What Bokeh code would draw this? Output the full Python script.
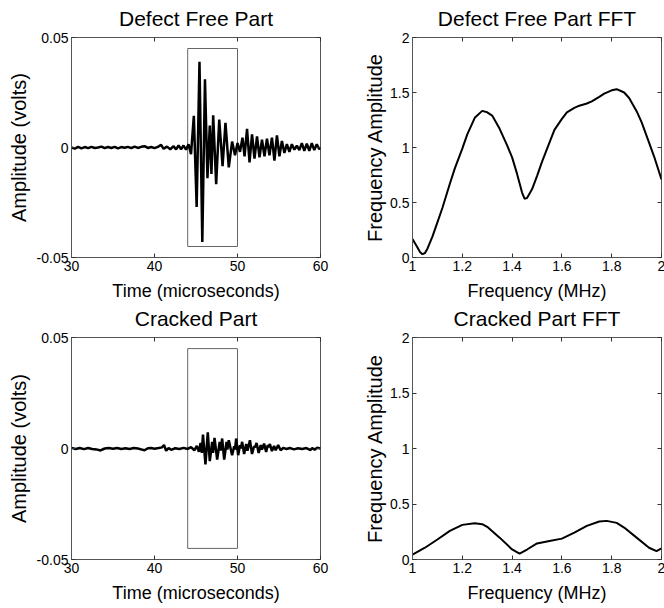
from bokeh.plotting import figure
from bokeh.models import Range1d, FixedTicker, LinearAxis, CustomLabelingPolicy
from bokeh.layouts import column, row
from bokeh.embed import file_html
from bokeh.resources import INLINE

# ---------------- data ----------------
t_free = [30.0, 30.4, 30.8, 31.2, 31.6, 32.0, 32.4, 32.8, 33.2, 33.6, 34.0, 34.4, 34.8, 35.2,
          35.6, 36.0, 36.4, 36.8, 37.2, 37.6, 38.0, 38.4, 38.8, 39.2, 39.6, 40.0, 40.4, 40.8,
          41.1, 41.5, 41.9, 42.3, 42.6, 42.9, 43.2, 43.5, 43.8, 44.1, 44.4, 44.74, 45.08,
          45.42, 45.76, 46.08, 46.38, 46.66, 46.86, 47.07, 47.43, 47.8, 48.2, 48.55, 48.95,
          49.35, 49.7, 50.0, 50.3, 50.6, 50.85, 51.15, 51.45, 51.75, 52.05, 52.35, 52.65,
          52.95, 53.25, 53.55, 53.85, 54.15, 54.45, 54.75, 55.05, 55.35, 55.65, 55.95, 56.25,
          56.55, 56.85, 57.15, 57.45, 57.75, 58.05, 58.35, 58.65, 58.95, 59.25, 59.55, 59.85, 60.0]
v_free = [0.0, -0.0005, 0.0003, -0.0004, 0.0002, -0.0003, 0.0003, -0.0002, 0.0, 0.0004,
          -0.0003, 0.0002, -0.0002, 0.0003, -0.0004, 0.0002, -0.0001, 0.0003, -0.0003, 0.0004,
          -0.0002, 0.0003, 0.0006, -0.0002, 0.0002, -0.0003, 0.0003, 0.0012, -0.0006, 0.0004,
          -0.0008, 0.0006, -0.0009, 0.0010, -0.0008, 0.0009, -0.0010, 0.0015, -0.0030, 0.0144,
          -0.0270, 0.0390, -0.0430, 0.0310, -0.0140, 0.0100, -0.0120, 0.0146, -0.0167, 0.0127,
          -0.0085, 0.0112, -0.0090, 0.0027, -0.0035, 0.0020, -0.0020, 0.0045, -0.0040, 0.0085,
          -0.0068, 0.0060, -0.0050, 0.0050, -0.0045, 0.0035, -0.0040, 0.0040, -0.0035, 0.0045,
          -0.0060, 0.0055, -0.0040, 0.0030, -0.0025, 0.0015, -0.0020, 0.0015, -0.0010, 0.0008,
          -0.0012, 0.0020, -0.0015, 0.0018, -0.0015, 0.0020, -0.0012, 0.0015, -0.0008, 0.0]

t_crack = [30.0, 30.5, 31.0, 31.5, 32.0, 32.5, 33.0, 33.5, 34.0, 34.5, 35.0, 35.5, 36.0, 36.5,
           37.0, 37.5, 38.0, 38.5, 38.8, 39.2, 39.6, 40.0, 40.5, 40.9, 41.15, 41.4, 41.7, 42.0,
           42.5, 43.0, 43.5, 44.0, 44.4, 44.8, 45.1, 45.35, 45.55, 45.7, 45.84, 46.14, 46.42,
           46.66, 46.95, 47.05, 47.23, 47.55, 47.85, 47.98, 48.15, 48.4, 48.68, 48.78, 48.95,
           49.35, 49.6, 49.7, 49.84, 50.08, 50.3, 50.4, 50.56, 50.8, 51.05, 51.2, 51.5, 51.75,
           52.0, 52.1, 52.3, 52.55, 52.8, 52.95, 53.2, 53.45, 53.65, 53.75, 53.9, 54.15, 54.4,
           54.6, 54.9, 55.2, 55.5, 55.9, 56.3, 56.8, 57.3, 57.8, 58.3, 58.8, 59.0, 59.3, 59.6, 60.0]
v_crack = [0.0003, -0.0002, 0.0002, -0.0003, 0.0002, -0.0002, -0.0004, -0.0009, 0.0, 0.0002,
           -0.0001, 0.0002, -0.0002, 0.0001, -0.0002, 0.0002, 0.0, -0.0005, -0.0008, 0.0001,
           0.0002, -0.0001, 0.0002, 0.0005, 0.0016, -0.0010, 0.0002, -0.0006, 0.0001, -0.0002,
           0.0003, -0.0002, 0.0006, -0.0008, 0.0012, -0.0015, 0.0025, -0.0020, 0.0063, -0.0072,
           0.0073, -0.0057, 0.0030, -0.0020, 0.0048, -0.0050, 0.0030, -0.0010, 0.0045, -0.0050,
           0.0030, -0.0005, 0.0037, -0.0030, 0.0010, -0.0005, 0.0045, -0.0030, 0.0015, 0.0000,
           0.0030, -0.0025, 0.0020, -0.0010, 0.0037, -0.0025, 0.0010, 0.0005, 0.0025, -0.0020,
           0.0015, -0.0005, 0.0022, -0.0015, 0.0015, 0.0005, 0.0020, -0.0012, 0.0012, -0.0008,
           0.0015, -0.0008, 0.0003, -0.0002, 0.0002, -0.0004, 0.0001, -0.0002, 0.0002, -0.0007,
           0.0002, -0.0005, 0.0003, 0.0]

f_free = [1.00, 1.01, 1.02, 1.03, 1.04, 1.05, 1.06, 1.08, 1.10, 1.12, 1.15, 1.17, 1.20, 1.22,
          1.25, 1.28, 1.30, 1.32, 1.35, 1.38, 1.40, 1.42, 1.44, 1.45, 1.46, 1.48, 1.50, 1.52,
          1.55, 1.57, 1.60, 1.62, 1.65, 1.67, 1.70, 1.72, 1.75, 1.77, 1.80, 1.82, 1.85, 1.87,
          1.90, 1.92, 1.95, 1.97, 2.00]
a_free = [0.167, 0.13, 0.09, 0.05, 0.03, 0.04, 0.08, 0.19, 0.32, 0.45, 0.67, 0.81, 0.99, 1.12,
          1.27, 1.333, 1.32, 1.29, 1.17, 1.02, 0.91, 0.76, 0.59, 0.535, 0.54, 0.62, 0.74, 0.87,
          1.045, 1.16, 1.26, 1.32, 1.36, 1.38, 1.40, 1.42, 1.46, 1.49, 1.52, 1.53, 1.50, 1.45,
          1.33, 1.23, 1.045, 0.92, 0.71]

f_crack = [1.00, 1.05, 1.10, 1.15, 1.20, 1.25, 1.28, 1.30, 1.35, 1.40, 1.43, 1.46, 1.50, 1.55,
           1.60, 1.65, 1.70, 1.75, 1.78, 1.82, 1.85, 1.90, 1.95, 1.98, 2.00]
a_crack = [0.045, 0.106, 0.18, 0.258, 0.312, 0.327, 0.318, 0.294, 0.197, 0.091, 0.052, 0.09,
           0.145, 0.167, 0.188, 0.242, 0.303, 0.342, 0.348, 0.33, 0.288, 0.197, 0.106, 0.076, 0.10]

box_t = [44, 50]
box_v = [-0.045, 0.045]

time_ticks = [30, 40, 50, 60]
time_labels = ["30", "40", "50", "60"]
amp_ticks = [-0.05, 0, 0.05]
amp_labels = ["-0.05", "0", "0.05"]
freq_ticks = [1.0, 1.2, 1.4, 1.6, 1.8, 2.0]
freq_labels = ["1", "1.2", "1.4", "1.6", "1.8", "2"]
fa_ticks = [0, 0.5, 1, 1.5, 2]
fa_labels = ["0", "0.5", "1", "1.5", "2"]

FONT = "Liberation Sans"
FRAME = "#555555"


def tick_only_axis(ticks):
    return LinearAxis(ticker=FixedTicker(ticks=ticks), major_label_text_font_size="1px",
                      major_label_policy=CustomLabelingPolicy(
                          code="return new indices.constructor(indices.size, 0)"),
                      major_label_standoff=0, major_tick_in=4, major_tick_out=0,
                      minor_tick_line_color=None, axis_line_color=None,
                      major_tick_line_color="#333333")


def make_fig(title, xr, yr, xt, xl, yt, yl, xlab, ylab, mbl, mbr, mbt, mbb, fh,
             ylab_standoff, border_fill):
    p = figure(frame_width=249, frame_height=fh,
               x_range=Range1d(*xr), y_range=Range1d(*yr),
               output_backend="svg", toolbar_location=None,
               min_border_left=mbl, min_border_right=mbr,
               min_border_top=mbt, min_border_bottom=mbb)
    p.title.text = title
    p.title.align = "center"
    p.title.text_font = FONT
    p.title.text_font_size = "21px"
    p.title.text_font_style = "normal"
    p.title.text_color = "black"
    p.title.standoff = 8
    p.grid.visible = False
    p.outline_line_color = FRAME
    p.outline_line_width = 1
    p.background_fill_color = "white"
    p.border_fill_color = border_fill

    xa = p.xaxis[0]
    xa.ticker = FixedTicker(ticks=xt)
    xa.major_label_overrides = dict(zip(xt, xl))
    xa.axis_label = xlab
    xa.axis_label_standoff = 7
    xa.axis_label_text_font_size = "18px"
    ya = p.yaxis[0]
    ya.ticker = FixedTicker(ticks=yt)
    ya.major_label_overrides = dict(zip(yt, yl))
    ya.axis_label = ylab
    ya.axis_label_standoff = ylab_standoff
    ya.axis_label_text_font_size = "20px"
    for ax in (xa, ya):
        ax.major_label_text_font = FONT
        ax.major_label_text_font_size = "14px"
        ax.major_label_text_color = "black"
        ax.major_label_standoff = 3
        ax.axis_label_text_font = FONT
        ax.axis_label_text_font_style = "normal"
        ax.axis_label_text_color = "black"
        ax.axis_line_color = FRAME
        ax.major_tick_in = 4
        ax.major_tick_out = 0
        ax.major_tick_line_color = "#333333"
        ax.minor_tick_line_color = None

    p.add_layout(tick_only_axis(xt), "above")
    p.add_layout(tick_only_axis(yt), "right")
    return p


p1 = make_fig("Defect Free Part", (30, 60), (-0.05, 0.05), time_ticks, time_labels,
              amp_ticks, amp_labels, "Time (microseconds)", "Amplitude (volts)",
              71, 20, 36, 46, 220, 4, "white")
p1.quad(left=[box_t[0]], right=[box_t[1]], bottom=[box_v[0]], top=[box_v[1]],
        fill_color=None, line_color="#666666", line_width=1)
p1.line(t_free, v_free, line_color="black", line_width=2.5)

p2 = make_fig("Defect Free Part FFT", (1, 2), (0, 2), freq_ticks, freq_labels,
              fa_ticks, fa_labels, "Frequency (MHz)", "Frequency Amplitude",
              72, 3, 36, 46, 220, 1, "white")
p2.line(f_free, a_free, line_color="black", line_width=2)

p3 = make_fig("Cracked Part", (30, 60), (-0.05, 0.05), time_ticks, time_labels,
              amp_ticks, amp_labels, "Time (microseconds)", "Amplitude (volts)",
              71, 20, 30, 40, 222, 4, None)
p3.quad(left=[box_t[0]], right=[box_t[1]], bottom=[box_v[0]], top=[box_v[1]],
        fill_color=None, line_color="#666666", line_width=1)
p3.line(t_crack, v_crack, line_color="black", line_width=2.5)

p4 = make_fig("Cracked Part FFT", (1, 2), (0, 2), freq_ticks, freq_labels,
              fa_ticks, fa_labels, "Frequency (MHz)", "Frequency Amplitude",
              72, 3, 30, 40, 222, 1, None)
p4.line(f_crack, a_crack, line_color="black", line_width=2)

top_row = row(p1, p2)
bottom_row = row(p3, p4, styles={"margin-top": "-3px"})
layout = column(top_row, bottom_row)
open("out.html", "w").write(file_html(layout, INLINE))
